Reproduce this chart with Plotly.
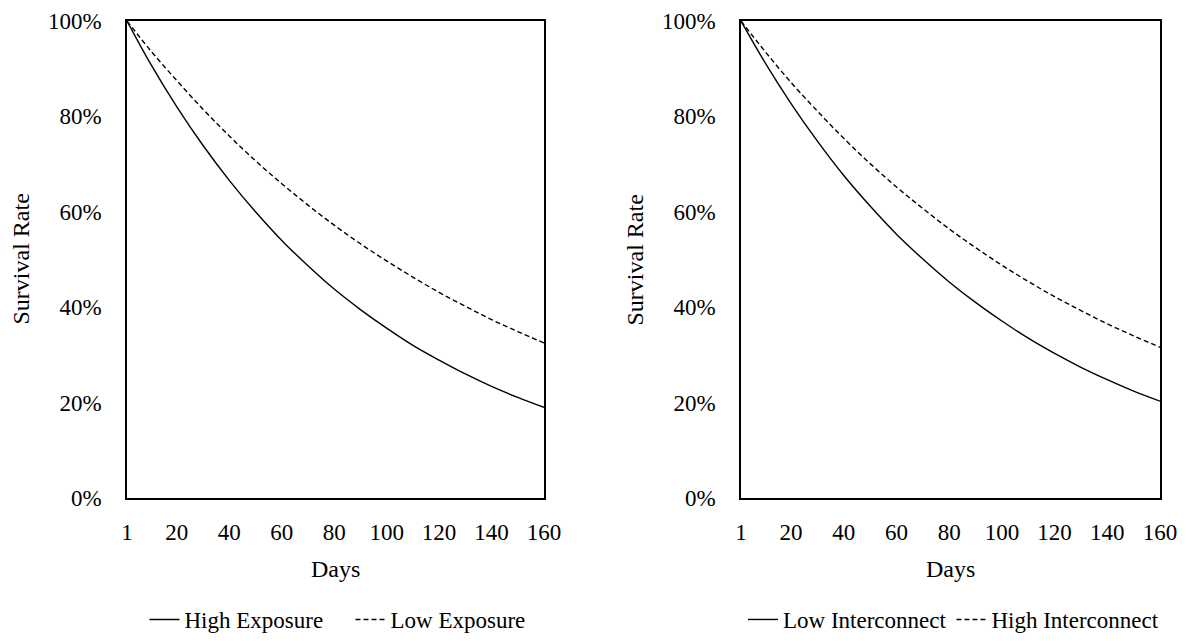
import plotly.graph_objects as go

days = [1, 10, 20, 30, 40, 50, 60, 70, 80, 90, 100, 110, 120, 130, 140, 150, 160]

high_exposure = [100, 91.0, 82.0, 73.9, 66.6, 60.0, 54.0, 48.7, 43.8, 39.5, 35.6, 32.0, 28.9, 26.0, 23.4, 21.1, 19.0]
low_exposure = [100, 93.8, 87.5, 81.5, 75.9, 70.7, 65.9, 61.4, 57.2, 53.3, 49.7, 46.3, 43.1, 40.2, 37.4, 34.9, 32.5]

low_interconnect = [100, 91.4, 82.7, 74.8, 67.6, 61.2, 55.3, 50.1, 45.3, 41.0, 37.1, 33.5, 30.3, 27.4, 24.8, 22.4, 20.3]
high_interconnect = [100, 93.7, 87.1, 81.1, 75.4, 70.1, 65.2, 60.7, 56.4, 52.5, 48.8, 45.4, 42.2, 39.3, 36.5, 34.0, 31.6]

x_ticks = [1, 20, 40, 60, 80, 100, 120, 140, 160]
y_ticks = [0, 20, 40, 60, 80, 100]
y_tick_text = ["0%", "20%", "40%", "60%", "80%", "100%"]

FONT = "Liberation Serif"
DASH = "5px,3px"

fig = go.Figure()
fig.add_trace(go.Scatter(x=days, y=high_exposure, mode="lines", name="High Exposure",
                         line=dict(color="black", width=1.4, shape="spline"), xaxis="x", yaxis="y", legend="legend"))
fig.add_trace(go.Scatter(x=days, y=low_exposure, mode="lines", name="Low Exposure",
                         line=dict(color="black", width=1.4, dash=DASH, shape="spline"), xaxis="x", yaxis="y", legend="legend"))
fig.add_trace(go.Scatter(x=days, y=low_interconnect, mode="lines", name="Low Interconnect",
                         line=dict(color="black", width=1.4, shape="spline"), xaxis="x2", yaxis="y2", legend="legend2"))
fig.add_trace(go.Scatter(x=days, y=high_interconnect, mode="lines", name="High Interconnect",
                         line=dict(color="black", width=1.4, dash=DASH, shape="spline"), xaxis="x2", yaxis="y2", legend="legend2"))

ax_common = dict(showline=True, linecolor="black", linewidth=1.5, mirror=True, showgrid=False, zeroline=False,
                 ticks="", automargin=False, tickfont=dict(family=FONT, size=23, color="black"))

xl = [127 / 1186, 544 / 1186]
xr = [741 / 1186, 1160 / 1186]
yd = [1 - 498 / 641, 1 - 21 / 641]

fig.update_layout(
    width=1186, height=641,
    margin=dict(l=0, r=0, t=0, b=0),
    paper_bgcolor="white", plot_bgcolor="white",
    font=dict(family=FONT, size=22, color="black"),
    xaxis=dict(domain=xl, range=[1, 160], tickvals=x_ticks, anchor="y", ticklabelstandoff=13, **ax_common),
    yaxis=dict(domain=yd, range=[0, 100], tickvals=y_ticks, ticktext=y_tick_text, anchor="x", ticklabelstandoff=19, **ax_common),
    xaxis2=dict(domain=xr, range=[1, 160], tickvals=x_ticks, anchor="y2", ticklabelstandoff=13, **ax_common),
    yaxis2=dict(domain=yd, range=[0, 100], tickvals=y_ticks, ticktext=y_tick_text, anchor="x2", ticklabelstandoff=19, **ax_common),
    legend=dict(orientation="h", x=(xl[0] + xl[1]) / 2 + 15 / 1186, xanchor="center", y=0, yanchor="bottom",
                font=dict(family=FONT, size=23), bgcolor="rgba(0,0,0,0)", itemwidth=30,
                entrywidth=161, entrywidthmode="pixels"),
    legend2=dict(orientation="h", x=(xr[0] + xr[1]) / 2 + 3 / 1186, xanchor="center", y=0, yanchor="bottom",
                 font=dict(family=FONT, size=23), bgcolor="rgba(0,0,0,0)", itemwidth=30),
    annotations=[
        dict(text="Survival Rate", xref="paper", yref="paper", x=20 / 1186, y=(yd[0] + yd[1]) / 2, textangle=-90,
             xanchor="center", yanchor="middle", showarrow=False, font=dict(family=FONT, size=24)),
        dict(text="Survival Rate", xref="paper", yref="paper", x=634 / 1186, y=(yd[0] + yd[1]) / 2, textangle=-90,
             xanchor="center", yanchor="middle", showarrow=False, font=dict(family=FONT, size=24)),
        dict(text="Days", xref="paper", yref="paper", x=(xl[0] + xl[1]) / 2, y=1 - 569 / 641,
             xanchor="center", yanchor="middle", showarrow=False, font=dict(family=FONT, size=24)),
        dict(text="Days", xref="paper", yref="paper", x=(xr[0] + xr[1]) / 2, y=1 - 569 / 641,
             xanchor="center", yanchor="middle", showarrow=False, font=dict(family=FONT, size=24)),
    ],
)

fig.write_html("out.html")
